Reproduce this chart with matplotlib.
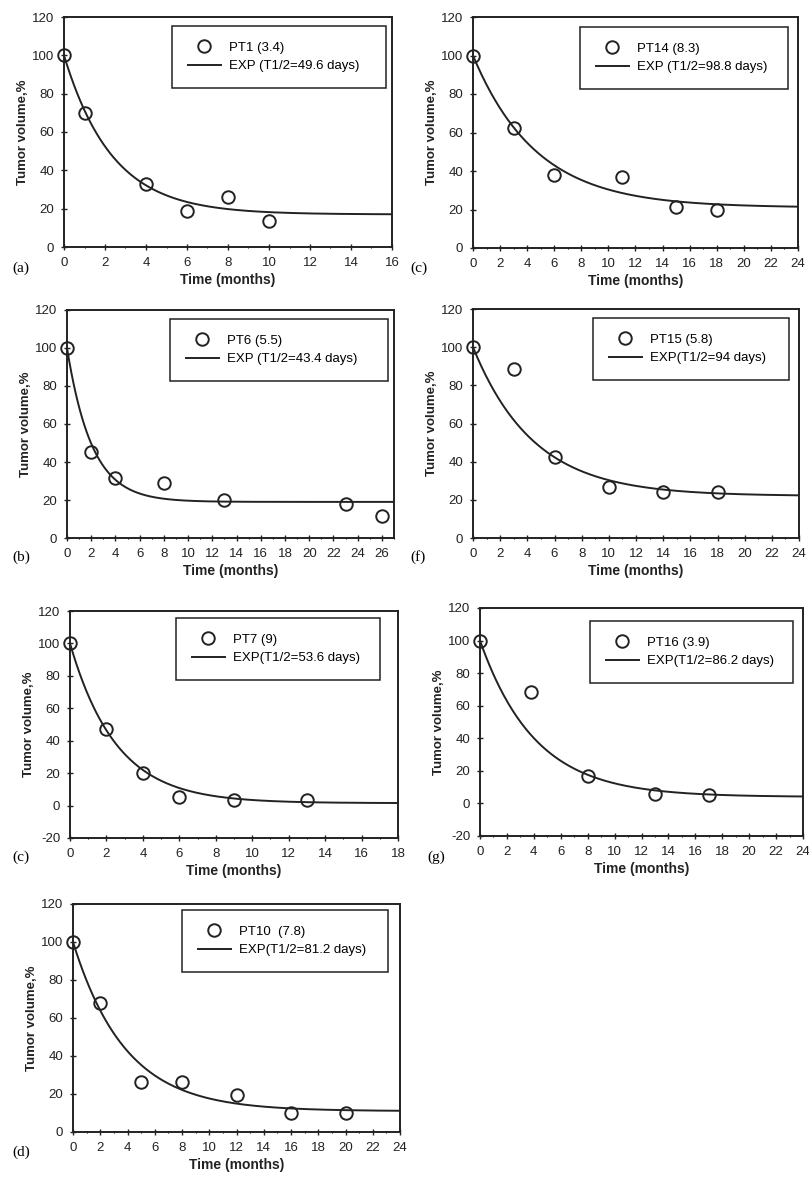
import numpy as np
import matplotlib
matplotlib.use("Agg")
import matplotlib.pyplot as plt
from matplotlib.ticker import MultipleLocator

plt.rcParams['font.family'] = ['Liberation Sans', 'DejaVu Sans']
plt.rcParams['axes.unicode_minus'] = False

# panel data
panel_tags = ["(a)", "(c)", "(b)", "(f)", "(c)", "(g)", "(d)"]
patients = ["PT1 (3.4)", "PT14 (8.3)", "PT6 (5.5)", "PT15 (5.8)",
            "PT7 (9)", "PT16 (3.9)", "PT10  (7.8)"]
fit_labels = ["EXP (T1/2=49.6 days)", "EXP (T1/2=98.8 days)",
              "EXP (T1/2=43.4 days)", "EXP(T1/2=94 days)",
              "EXP(T1/2=53.6 days)", "EXP(T1/2=86.2 days)",
              "EXP(T1/2=81.2 days)"]

t_pt1 = [0, 1, 4, 6, 8, 10]
v_pt1 = [100, 70, 33, 18.6, 26, 13.4]
t_pt14 = [0, 3, 6, 11, 15, 18]
v_pt14 = [100, 62.3, 38.1, 36.7, 21.5, 19.7]
t_pt6 = [0, 2, 4, 8, 13, 23, 26]
v_pt6 = [100, 45.4, 31.8, 28.8, 20.1, 17.8, 11.7]
t_pt15 = [0, 3, 6, 10, 14, 18]
v_pt15 = [100, 88.6, 42.2, 26.7, 23.9, 24.1]
t_pt7 = [0, 2, 4, 6, 9, 13]
v_pt7 = [100, 47.5, 20.2, 5.2, 3.7, 3.3]
t_pt16 = [0, 3.8, 8, 13, 17]
v_pt16 = [100, 68.5, 16.7, 5.8, 5.4]
t_pt10 = [0, 2, 5, 8, 12, 16, 20]
v_pt10 = [100, 67.7, 26.4, 26.4, 19.4, 10.0, 10.0]

times = [t_pt1, t_pt14, t_pt6, t_pt15, t_pt7, t_pt16, t_pt10]
volumes = [v_pt1, v_pt14, v_pt6, v_pt15, v_pt7, v_pt16, v_pt10]

# exponential fit: half life (days, from legend) and plateau (%)
half_life_days = [49.6, 98.8, 43.4, 94, 53.6, 86.2, 81.2]
plateau = [17, 21, 19, 22, 1.5, 4, 11]

x_max = [16, 24, 27, 24, 18, 24, 24]
x_tick_max = [16, 24, 26, 24, 18, 24, 24]
y_min = [0, 0, 0, 0, -20, -20, 0]

# axes boxes in pixels: left, right, top, bottom
boxes = [(64, 392, 17, 247), (473, 798, 17, 248),
         (67, 394, 310, 538), (473, 799, 309, 538),
         (70, 398, 611, 838), (480, 803, 608, 836),
         (73, 400, 904, 1132)]
legend_x = [(172, 386, 26), (580, 788, 27), (170, 388, 319), (593, 789, 318),
            (176, 380, 618), (590, 793, 621), (182, 388, 910)]
tag_pos = [(12, 268), (410, 268), (12, 557), (410, 557),
           (12, 857), (427, 857), (12, 1152)]

W, H = 809, 1185
fig = plt.figure(figsize=(W / 100, H / 100), dpi=100)
ink = '#222222'

for i in range(7):
    l, r, t, b = boxes[i]
    ax = fig.add_axes([l / W, (H - b) / H, (r - l) / W, (b - t) / H])
    tt = np.linspace(0, x_max[i], 300)
    k = np.log(2) / (half_life_days[i] / 30.4)
    fit = plateau[i] + (100 - plateau[i]) * np.exp(-k * tt)
    ax.plot(times[i], volumes[i], 'o', mfc='none', mec=ink, ms=9,
            mew=1.4, clip_on=False, zorder=3, label=patients[i])
    ax.plot(tt, fit, '-', color=ink, lw=1.4, label=fit_labels[i])

    ax.set_xlim(0, x_max[i])
    ax.set_ylim(y_min[i], 120)
    ax.set_xticks(np.arange(0, x_tick_max[i] + 1, 2))
    ax.xaxis.set_minor_locator(MultipleLocator(1))
    ax.set_yticks(np.arange(y_min[i], 121, 20))
    ax.tick_params(which='major', direction='inout', length=4, width=1,
                   labelsize=9.5, colors=ink, pad=5)
    ax.tick_params(which='minor', direction='inout', length=2, width=0.8)
    for sp in ax.spines.values():
        sp.set_linewidth(1.4)
        sp.set_color(ink)

    ax.set_xlabel("Time (months)", fontsize=10, fontweight='bold',
                  color=ink, labelpad=3)
    ax.set_ylabel("Tumor volume,%", fontsize=9.5, fontweight='bold',
                  color=ink, labelpad=2)

    lx0, lx1, ly0 = legend_x[i]
    ax.legend(loc='upper left',
              bbox_to_anchor=((lx0 - l) / (r - l), (b - ly0) / (b - t),
                              (lx1 - lx0) / (r - l), 0.0),
              mode='expand', borderaxespad=0, fontsize=9.5, fancybox=False,
              edgecolor=ink, framealpha=1, handlelength=2.5,
              handletextpad=0.6, borderpad=1.2, labelspacing=0.45)
    ax.get_legend().get_frame().set_linewidth(1.1)

    tx, ty = tag_pos[i]
    fig.text(tx / W, 1 - ty / H, panel_tags[i], fontsize=11,
             family='Liberation Serif', va='center', ha='left')

fig.savefig("out.png", dpi=100)
